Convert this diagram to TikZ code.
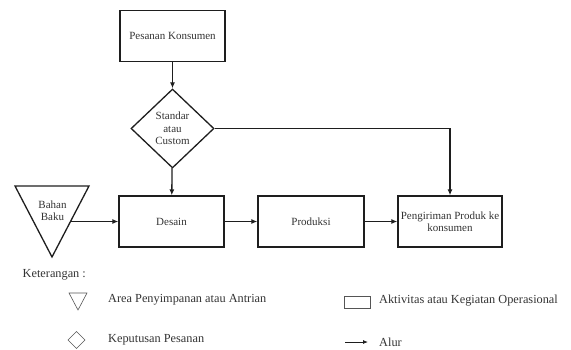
\documentclass[tikz,border=0pt]{standalone}
\usepackage{fontspec}
\setmainfont{Liberation Serif}
\usetikzlibrary{shapes.geometric,arrows.meta}
\definecolor{txt}{HTML}{333333}
\definecolor{ln}{HTML}{1E1E1E}
\definecolor{icn}{HTML}{555555}
\begin{document}
\begin{tikzpicture}[x=1pt,y=-1pt,
  proc/.style={draw=ln,line width=1.3pt,minimum height=51pt,inner sep=0pt,text=txt,font=\fontsize{11}{12.5}\selectfont,align=center},
  dec/.style={draw=ln,line width=1.3pt,shape=diamond,minimum width=83pt,minimum height=79pt,inner sep=0pt,text=txt,font=\fontsize{11}{12.5}\selectfont,align=center},
  flow/.style={draw=ln,line width=1.3pt,-{Latex[length=6pt,width=5pt]}},
  leg/.style={text=txt,font=\fontsize{12.3}{14}\selectfont,anchor=west,inner sep=0pt},
  icon/.style={draw=icn,line width=0.6pt}]
\useasboundingbox (0,0) rectangle (571,349);

% main nodes
\node[proc,minimum width=105pt] (pk) at (172.5,36) {Pesanan Konsumen};
\node[dec] (sc) at (172.5,128.5) {Standar\\atau\\Custom};
\node[proc,minimum width=105pt] (des) at (171.5,221.5) {Desain};
\node[proc,minimum width=106pt] (prod) at (311,221.5) {Produksi};
\node[proc,minimum width=104pt] (peng) at (450,221.5) {Pengiriman Produk ke\\konsumen};

% storage triangle
\draw[ln,line width=1.3pt] (15,186) -- (89,186) -- (52,257) -- cycle;
\node[text=txt,font=\fontsize{11}{12}\selectfont,align=center,inner sep=0pt] (bbt) at (52.5,211) {Bahan\\Baku};
\coordinate (bb) at (70.5,221.5);

% connectors
\draw[flow] (pk) -- (sc);
\draw[flow] (sc) -- (des);
\draw[flow] (sc.east) -| (peng.north);
\draw[flow] (bb) -- (des.west);
\draw[flow] (des) -- (prod);
\draw[flow] (prod) -- (peng);

% legend
\node[leg] (ket) at (22.5,274.5) {Keterangan :};
\draw[icon] (69,293) -- (87,293) -- (78,310) -- cycle;
\node[leg] (l1) at (108,300) {Area Penyimpanan atau Antrian};
\draw[icon] (68,340) -- (76.5,331.5) -- (85,340) -- (76.5,348.5) -- cycle;
\node[leg] (l2) at (108,340) {Keputusan Pesanan};
\draw[icon] (344,296) rectangle (370,308);
\node[leg] (l3) at (379,301) {Aktivitas atau Kegiatan Operasional};
\coordinate (a1) at (345,342);
\coordinate (a2) at (368,342);
\draw[draw=ln,line width=0.8pt,-{Latex[length=5pt,width=4pt]}] (a1) -- (a2);
\node[leg] (l4) at (379,342) {Alur};
\end{tikzpicture}
\end{document}
